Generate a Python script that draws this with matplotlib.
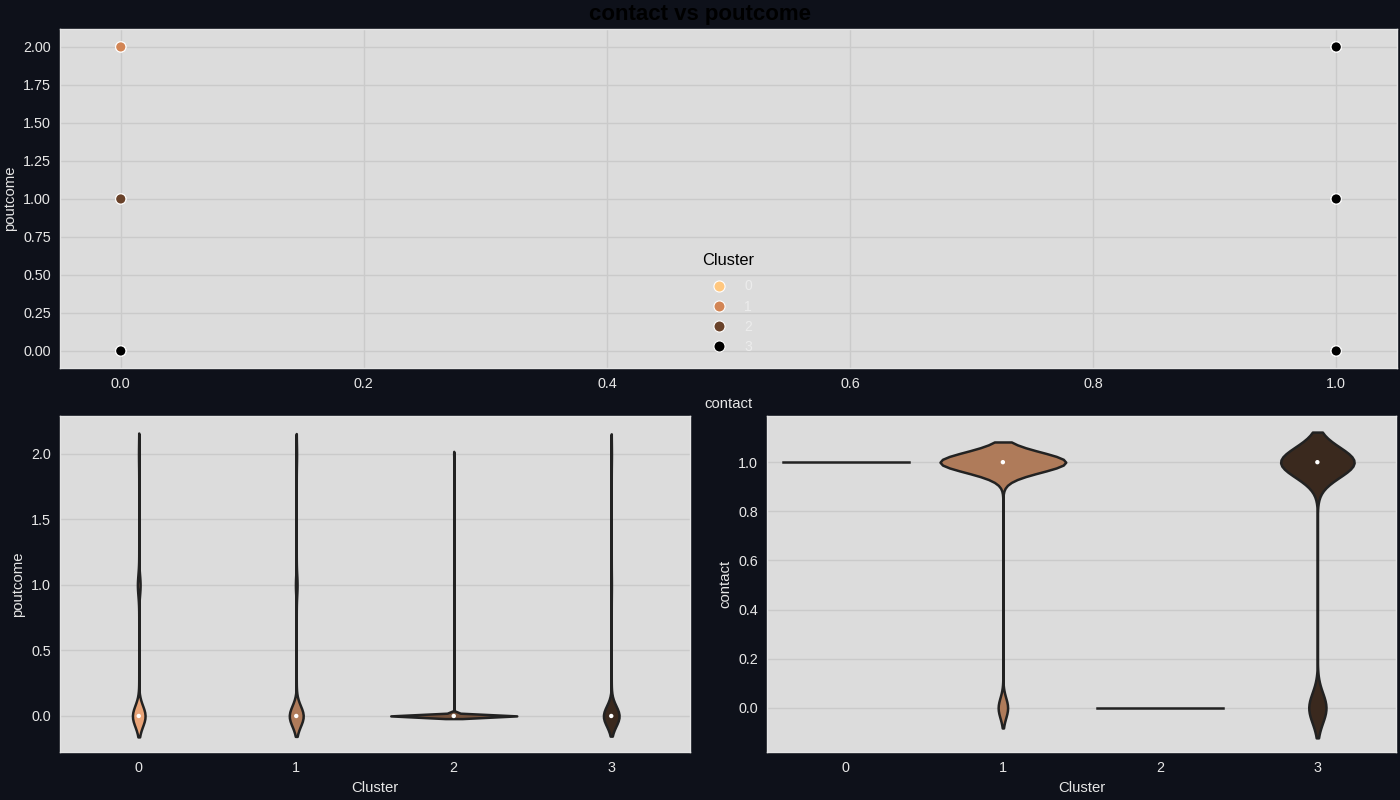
import colorsys

import matplotlib
matplotlib.use("Agg")
import matplotlib.pyplot as plt
import numpy as np
from matplotlib.lines import Line2D


CLUSTERS = [0, 1, 2, 3]
POUTCOME_VALUES = [0, 1, 2]
CONTACT_VALUES = [0, 1]

# observations per cluster (rows) at each value (columns)
POUTCOME_COUNTS = [
    [6720, 1428, 252],
    [7396, 860, 344],
    [33932, 17, 51],
    [1576, 33, 41],
]
CONTACT_COUNTS = [
    [0, 5000],
    [644, 8556],
    [6000, 0],
    [2052, 8748],
]

# distinct (contact, poutcome, cluster) points in drawing order
SCATTER_CONTACT = [1, 1, 1, 0, 0, 0, 0, 0, 0, 1, 1, 1, 0, 1, 1, 1]
SCATTER_POUTCOME = [0, 1, 2, 1, 0, 1, 2, 2, 0, 0, 1, 2, 0, 0, 1, 2]
SCATTER_CLUSTER = [0, 0, 0, 1, 2, 2, 2, 1, 1, 1, 1, 1, 3, 3, 3, 3]

FIG_BG = "#0e111a"
AX_BG = "#dcdcdc"
GRID = "#cacaca"
TEXT = "#e6e6e6"
LINE = "#222222"

plt.rcParams["font.family"] = ["Liberation Sans", "DejaVu Sans"]

cmap = plt.get_cmap("copper_r")


def desaturate(rgb, prop):
    h, l, s = colorsys.rgb_to_hls(*rgb[:3])
    return colorsys.hls_to_rgb(h, l, s * prop)


VIOLIN_COLORS = [desaturate(cmap(x), 0.75) for x in (0.2, 0.4, 0.6, 0.8)]


def style_axes(ax, xgrid=True):
    ax.set_facecolor(AX_BG)
    ax.set_axisbelow(True)
    ax.grid(True, axis="both" if xgrid else "y", color=GRID, linewidth=1)
    ax.tick_params(colors=TEXT, labelsize=10.4, length=0, pad=6.5)
    for sp in ax.spines.values():
        sp.set_color("#e4e4e4")
        sp.set_linewidth(1)


def kde(values, counts):
    values = np.asarray(values, dtype=float)
    counts = np.asarray(counts, dtype=float)
    n = counts.sum()
    mean = (values * counts).sum() / n
    std = np.sqrt((counts * (values - mean) ** 2).sum() / (n - 1))
    bw = std * n ** (-0.2)
    present = values[counts > 0]
    grid = np.linspace(present.min() - 2 * bw, present.max() + 2 * bw, 100)
    dens = (counts[None, :] * np.exp(-0.5 * ((grid[:, None] - values[None, :]) / bw) ** 2)).sum(axis=1)
    dens /= n * bw * np.sqrt(2 * np.pi)
    return grid, dens


def draw_violins(ax, values, count_rows):
    curves = {}
    for pos, row in enumerate(count_rows):
        if sum(1 for c in row if c > 0) > 1:
            curves[pos] = kde(values, row)
    peak = max(d.max() for _, d in curves.values())
    for pos, row in enumerate(count_rows):
        data = np.repeat(values, row)
        if pos not in curves:
            v = data[0]
            ax.plot([pos - 0.4, pos + 0.4], [v, v], color=LINE, linewidth=1.8, zorder=2)
            continue
        grid, dens = curves[pos]
        w = dens / peak * 0.4
        ax.fill_betweenx(grid, pos - w, pos + w, facecolor=VIOLIN_COLORS[pos],
                         edgecolor=LINE, linewidth=1.8, zorder=2)
        q25, q50, q75 = np.percentile(data, [25, 50, 75])
        if q75 > q25:
            ax.plot([pos, pos], [q25, q75], color=LINE, linewidth=4, zorder=3)
        ax.scatter([pos], [q50], s=10, color="white", edgecolors="none", zorder=4)
    ax.set_xticks(range(len(count_rows)))
    ax.set_xticklabels([str(c) for c in CLUSTERS])
    ax.set_xlim(-0.5, len(count_rows) - 0.5)


fig = plt.figure(figsize=(14, 8), dpi=100, facecolor=FIG_BG)

ax_top = fig.add_axes([60 / 1400, 1 - 368 / 800, 1337 / 1400, 339 / 800])
ax_bl = fig.add_axes([60 / 1400, 1 - 752 / 800, 630 / 1400, 336 / 800])
ax_br = fig.add_axes([767 / 1400, 1 - 752 / 800, 629 / 1400, 336 / 800])

# scatter
style_axes(ax_top)
ax_top.scatter(SCATTER_CONTACT, SCATTER_POUTCOME, c=[cmap(c / 3) for c in SCATTER_CLUSTER],
               s=55, edgecolors="white", linewidths=0.8, zorder=3)
ax_top.set_xlim(-0.05, 1.05)
ax_top.set_ylim(-0.112, 2.118)
ax_top.set_xticks(np.arange(0, 1.01, 0.2))
ax_top.set_yticks(np.arange(0, 2.01, 0.25))
ax_top.set_xlabel("contact", color=TEXT, fontsize=10.7)
ax_top.set_ylabel("poutcome", color=TEXT, fontsize=10.7)
handles = [Line2D([], [], marker="o", linestyle="", markersize=8, markerfacecolor=cmap(c / 3),
                  markeredgecolor="white", markeredgewidth=0.8) for c in CLUSTERS]
leg = ax_top.legend(handles, [str(c) for c in CLUSTERS], title="Cluster", loc="lower center",
                    frameon=False, fontsize=10, title_fontsize=11.8, labelspacing=0.45,
                    handletextpad=0.8, borderaxespad=0.6)
leg._legend_box.sep = 8
for t in leg.get_texts():
    t.set_color("#ececec")
leg.get_title().set_color("black")

# violins
style_axes(ax_bl, xgrid=False)
draw_violins(ax_bl, POUTCOME_VALUES, POUTCOME_COUNTS)
ax_bl.set_ylim(-0.275, 2.29)
ax_bl.set_yticks(np.arange(0, 2.01, 0.5))
ax_bl.set_xlabel("Cluster", color=TEXT, fontsize=10.7)
ax_bl.set_ylabel("poutcome", color=TEXT, fontsize=10.7)

style_axes(ax_br, xgrid=False)
draw_violins(ax_br, CONTACT_VALUES, CONTACT_COUNTS)
ax_br.set_ylim(-0.18, 1.188)
ax_br.set_yticks(np.arange(0, 1.01, 0.2))
ax_br.set_xlabel("Cluster", color=TEXT, fontsize=10.7)
ax_br.set_ylabel("contact", color=TEXT, fontsize=10.7)

fig.suptitle("contact vs poutcome", fontsize=16, fontweight="bold", color="black",
             y=0.995, va="top")

fig.savefig("out.png", dpi=100, facecolor=FIG_BG)
